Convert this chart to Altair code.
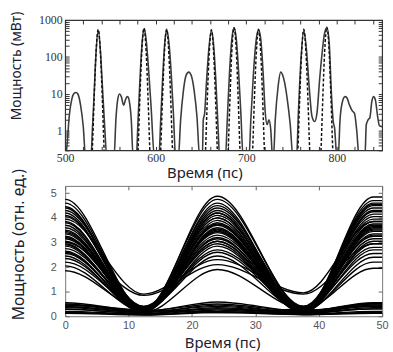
import altair as alt
import pandas as pd

# ---------------- top panel: pulse power, log scale ----------------
solid_t = [500, 502, 504.5, 507.5, 510, 512, 514, 517, 520, 522.5,
           528.5, 530, 532, 534, 536.5, 539, 541, 543.5, 546,
           554, 556, 558, 560, 562, 564.5, 567, 569, 571, 573, 575,
           578.5, 580.5, 583, 585, 587.3, 589.5, 592, 595, 598.5,
           603.5, 605.5, 608, 610, 612.3, 614.5, 617, 619.5, 622,
           625, 627.5, 630.5, 633.5, 636.5, 639.5, 642.5, 645.5, 648.5,
           651.5, 652.5, 654, 656, 658.5, 661.5, 664, 666.5, 669, 670.5,
           677, 679, 681.5, 684, 686.5, 689, 691.5, 694, 696.5,
           703, 705, 708, 711, 713.5, 716, 718.5, 721, 723, 725, 727, 729,
           730, 732, 735, 738, 741.5, 745, 748.5, 751.5,
           755.5, 757.5, 760, 763.5, 766.5, 769.5, 772.5, 775.5, 778, 781,
           784, 786.5, 789, 791.5, 794, 796, 797.5, 800,
           801.5, 803.5, 806, 809, 811, 814, 817, 819.5, 822, 824.5,
           831, 832.5, 834.5, 836.5, 838.5, 840.5, 842.5, 845, 847, 850]
solid_p = [0.15, 0.4, 2.5, 7.5, 10.5, 11, 10, 5, 1.3, 0.2,
           0.2, 1, 10, 120, 510, 140, 18, 1.5, 0.2,
           0.2, 2, 7, 10, 8.5, 5, 7.5, 8.5, 6, 2, 0.2,
           0.2, 2, 40, 250, 590, 280, 50, 4, 0.2,
           0.2, 2, 40, 250, 540, 250, 40, 3, 0.2,
           0.2, 2, 12, 32, 39, 30, 12, 2.5, 0.2,
           0.2, 2, 3, 20, 150, 510, 200, 20, 1, 0.2,
           0.2, 2, 40, 300, 620, 300, 40, 3, 0.2,
           0.2, 2, 40, 300, 540, 300, 40, 3, 1.5, 2, 1.1, 0.2,
           0.2, 2, 15, 39, 25, 8, 1.5, 0.2,
           0.2, 3, 60, 510, 150, 15, 2.5, 1.8, 3, 25,
           150, 450, 620, 250, 10, 1.8, 1.2, 0.2,
           0.2, 2, 6, 8.5, 8, 5, 3.5, 3, 1, 0.2,
           0.2, 1.5, 2, 2.3, 6, 8.5, 7, 2.5, 1.4, 1.3]

dash_t = [500, 527, 530, 532, 534, 536.5, 539, 541, 543, 546,
          577.5, 580.5, 582.5, 584.5, 587, 589.5, 591.5, 593.5, 596.5,
          602.5, 605.5, 607.5, 609.5, 612, 614.5, 616.5, 618.5, 621.5,
          652, 655, 657, 659, 661.5, 664, 666, 668, 671,
          677, 680, 682, 684, 686.5, 689, 691, 693, 696,
          704, 707, 709, 711, 713.5, 716, 718, 720, 723,
          754, 757, 759, 761, 763.5, 766, 768, 770, 773,
          779.5, 782.5, 784.5, 786.5, 789, 791.5, 793.5, 795.5, 798.5, 850]
dash_p = [0.01, 0.01, 0.3, 8, 120, 560, 120, 8, 0.3, 0.01,
          0.01, 0.3, 8, 130, 600, 130, 8, 0.3, 0.01,
          0.01, 0.3, 8, 120, 560, 120, 8, 0.3, 0.01,
          0.01, 0.3, 8, 120, 550, 120, 8, 0.3, 0.01,
          0.01, 0.3, 8, 140, 620, 140, 8, 0.3, 0.01,
          0.01, 0.3, 8, 120, 560, 120, 8, 0.3, 0.01,
          0.01, 0.3, 8, 120, 560, 120, 8, 0.3, 0.01,
          0.01, 0.3, 8, 140, 640, 140, 8, 0.3, 0.01, 0.01]

top_x_ticks = [500, 520, 540, 560, 580, 600, 620, 640, 660, 680, 700,
               720, 740, 760, 780, 800, 820, 840]
top_y_ticks = [0.3, 0.4, 0.5, 0.6, 0.7, 0.8, 0.9, 1, 2, 3, 4, 5, 6, 7, 8, 9,
               10, 20, 30, 40, 50, 60, 70, 80, 90, 100, 200, 300, 400, 500,
               600, 700, 800, 900, 1000]

# ---------------- bottom panel: eye diagram ----------------
# sample times: (left peak, shoulder), trough, peak, trough, (right peak, shoulder)
eye_x = [-1.5, 0.0, 12.4, 24.0, 37.6, 48.6, 50.6]
peak0 = [4.75, 4.60, 4.45, 4.30, 4.20, 4.05, 3.95, 3.85, 3.70, 3.60, 3.50, 3.45, 3.35, 3.25,
         3.15, 3.05, 2.95, 2.85, 2.75, 2.65, 2.55, 2.45, 2.35, 2.20, 2.05, 1.85, 4.10, 3.00,
         3.80, 2.90, 3.40, 4.40, 3.20, 0.45, 0.35, 2.60,
         0.50, 0.40, 0.30, 0.20, 0.12, 0.45, 0.55, 0.28, 0.15, 0.38]
trough1 = [0.30, 0.25, 0.20, 0.35, 0.15, 0.40, 0.90, 0.25, 0.20, 0.30, 0.15, 0.35, 0.25, 0.20,
           0.30, 0.40, 0.15, 0.25, 0.35, 0.20, 0.30, 0.15, 0.25, 0.35, 0.20, 0.30, 0.25, 0.85,
           0.20, 0.30, 0.25, 0.20, 0.25, 0.20, 0.15, 0.20,
           0.20, 0.15, 0.10, 0.08, 0.05, 0.25, 0.22, 0.12, 0.06, 0.18]
peak1 = [3.45, 4.88, 3.80, 2.95, 4.40, 3.15, 2.30, 4.20, 3.55, 2.60, 4.60, 3.30, 4.00, 2.85,
         4.75, 3.40, 1.90, 3.70, 3.05, 4.10, 2.45, 3.60, 4.30, 2.70, 3.90, 3.20, 4.50, 2.10,
         3.45, 4.00, 3.05, 0.30, 0.20, 3.75, 4.20, 3.50,
         0.58, 0.45, 0.35, 0.25, 0.15, 0.15, 0.50, 0.30, 0.18, 0.40]
trough2 = [0.25, 0.35, 0.20, 0.15, 0.40, 0.30, 0.95, 0.20, 0.25, 0.35, 0.15, 0.30, 0.25, 0.20,
           0.40, 0.20, 0.30, 0.25, 0.15, 0.35, 0.25, 0.20, 0.30, 0.40, 0.15, 0.25, 0.20, 0.90,
           0.30, 0.20, 0.25, 0.20, 0.30, 0.30, 0.25, 0.15,
           0.20, 0.15, 0.12, 0.08, 0.06, 0.20, 0.20, 0.10, 0.07, 0.15]
peak2 = [4.05, 3.30, 4.85, 3.65, 2.80, 4.40, 3.85, 3.15, 4.55, 2.55, 3.45, 4.70, 2.95, 3.75,
         4.15, 2.40, 3.55, 4.30, 3.05, 3.95, 2.20, 3.35, 1.95, 3.25, 4.50, 2.70, 3.70, 2.95,
         4.25, 3.50, 3.85, 0.45, 3.60, 4.60, 0.40, 0.30,
         0.55, 0.40, 0.30, 0.20, 0.12, 0.50, 0.52, 0.35, 0.15, 0.45]
n_high = 36

bottom_x_ticks = [0, 10, 20, 30, 40, 50]
bottom_y_ticks = [0, 1, 2, 3, 4, 5]

TITLE_FONT = "Noto Sans"
TITLE_COLOR = "#202030"

# ---------- build tables ----------
solid_df = pd.DataFrame({"t": solid_t, "p": solid_p})
dash_df = pd.DataFrame({"t": dash_t, "p": dash_p})

rows = []
for i in range(len(peak0)):
    vals = [peak0[i], peak0[i], trough1[i], peak1[i], trough2[i], peak2[i], peak2[i]]
    for xv, v in zip(eye_x, vals):
        rows.append({"trace": i, "t": xv, "p": v, "grp": "high" if i < n_high else "low"})
eye_df = pd.DataFrame(rows)

# ---------- top chart ----------
xs_top = alt.Scale(domain=[500, 850], nice=False, zero=False)
ys_top = alt.Scale(type="log", domain=[0.3, 1000], nice=False)

serif_lab = dict(labelFont="Liberation Serif", labelFontSize=12, labelColor="#333333")

solid = alt.Chart(solid_df).mark_line(
    color="#3c3c3c", strokeWidth=1.6, clip=True, interpolate="monotone"
).encode(
    x=alt.X("t:Q", scale=xs_top, axis=alt.Axis(
        orient="bottom", values=top_x_ticks,
        labelExpr="datum.value % 100 === 0 ? datum.label : ''",
        format="d", tickSize={"expr": "-4"}, labelPadding=6, domain=False, grid=False,
        tickColor="#333", title="Время (пс)", titleFont=TITLE_FONT, titleFontSize=15,
        titleFontWeight="normal", titleColor=TITLE_COLOR, titleX=141, titleY=22,
        titleAlign="center", titleBaseline="middle", labelFlush=False, **serif_lab)),
    y=alt.Y("p:Q", scale=ys_top, axis=alt.Axis(
        orient="left", values=top_y_ticks,
        labelExpr="indexof([1, 10, 100, 1000], datum.value) >= 0 ? format(datum.value, 'd') : ''",
        tickSize={"expr": "-4"}, labelPadding=7, domain=False, grid=False, tickColor="#333",
        title="Мощность (мВт)", titleFont=TITLE_FONT, titleFontSize=14,
        titleFontWeight="normal", titleColor=TITLE_COLOR, titleAngle=270,
        titleX=-49, titleY=46, titleAlign="center", titleBaseline="middle",
        labelFlush=False, **serif_lab)),
)

dashed = alt.Chart(dash_df).mark_line(
    color="#111111", strokeWidth=1.5, strokeDash=[3, 2], clip=True, interpolate="monotone"
).encode(
    x=alt.X("t:Q", scale=xs_top, axis=alt.Axis(
        orient="top", values=top_x_ticks, labels=False, tickSize={"expr": "-4"},
        domain=False, grid=False, tickColor="#333", title=None)),
    y=alt.Y("p:Q", scale=ys_top, axis=alt.Axis(
        orient="right", values=top_y_ticks, labels=False, tickSize={"expr": "-4"},
        domain=False, grid=False, tickColor="#333", title=None)),
)

top = alt.layer(solid, dashed).resolve_axis(x="independent", y="independent").properties(
    width=321, height=132, view=alt.ViewBackground(stroke="#333333", strokeWidth=1.2)
)

# ---------- bottom chart ----------
xs_bot = alt.Scale(domain=[0, 50], nice=False, zero=False)
ys_bot = alt.Scale(domain=[0, 5.3], nice=False)
sans_lab = dict(labelFont="Liberation Sans", labelFontSize=11, labelColor="#555555")

high = alt.Chart(eye_df[eye_df.grp == "high"]).mark_line(
    color="#000000", strokeWidth=1.4, clip=True, interpolate="monotone"
).encode(
    x=alt.X("t:Q", scale=xs_bot, axis=alt.Axis(
        orient="bottom", values=bottom_x_ticks, tickSize={"expr": "-4"}, labelPadding=7,
        domain=False, grid=False, tickColor="#666", title="Время (пс)",
        titleFont=TITLE_FONT, titleFontSize=15, titleFontWeight="normal",
        titleColor=TITLE_COLOR, titleX=159, titleY=27, titleAlign="center",
        titleBaseline="middle", labelFlush=False, **sans_lab)),
    y=alt.Y("p:Q", scale=ys_bot, axis=alt.Axis(
        orient="left", values=bottom_y_ticks, tickSize={"expr": "-4"}, labelPadding=13,
        domain=False, grid=False, tickColor="#666", title="Мощность (отн. ед.)",
        titleFont=TITLE_FONT, titleFontSize=16, titleFontWeight="normal",
        titleColor=TITLE_COLOR, titleAngle=270, titleX=-47, titleY=59,
        titleAlign="center", titleBaseline="middle", labelFlush=False, **sans_lab)),
    detail="trace:N",
)

low = alt.Chart(eye_df[eye_df.grp == "low"]).mark_line(
    color="#000000", strokeWidth=1.4, clip=True, interpolate="monotone"
).encode(
    x=alt.X("t:Q", scale=xs_bot, axis=alt.Axis(
        orient="top", values=bottom_x_ticks, labels=False, tickSize={"expr": "-4"},
        domain=False, grid=False, tickColor="#666", title=None)),
    y=alt.Y("p:Q", scale=ys_bot, axis=alt.Axis(
        orient="right", values=bottom_y_ticks, labels=False, tickSize={"expr": "-4"},
        domain=False, grid=False, tickColor="#666", title=None)),
    detail="trace:N",
)

bottom = alt.layer(high, low).resolve_axis(x="independent", y="independent").properties(
    width=321, height=132, view=alt.ViewBackground(stroke="#777777", strokeWidth=1)
)

chart = alt.vconcat(top, bottom, spacing=36, bounds="flush").properties(
    padding={"left": 9, "top": 8, "right": 4, "bottom": 2}
).configure(background="white")

chart.save("out.html", embed_options={"renderer": "svg", "actions": False})
